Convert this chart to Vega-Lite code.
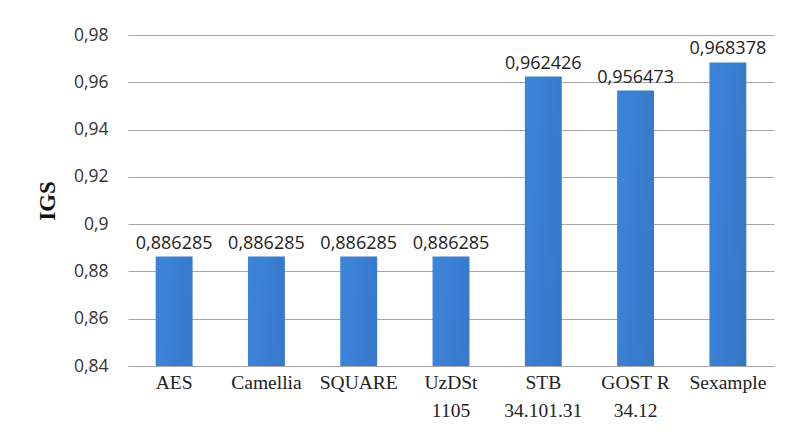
{
  "$schema": "https://vega.github.io/schema/vega-lite/v6.json",
  "width": 646,
  "height": 331,
  "autosize": {"type": "none"},
  "padding": {"left": 128, "top": 35, "right": 12, "bottom": 66},
  "background": "white",
  "config": {
    "locale": {"number": {"decimal": ",", "thousands": ".", "grouping": [3], "currency": ["", ""]}},
    "view": {"stroke": null}
  },
  "data": {
    "values": [
      {"cipher": "AES", "igs": 0.886285},
      {"cipher": "Camellia", "igs": 0.886285},
      {"cipher": "SQUARE", "igs": 0.886285},
      {"cipher": "UzDSt|1105", "igs": 0.886285},
      {"cipher": "STB|34.101.31", "igs": 0.962426},
      {"cipher": "GOST R|34.12", "igs": 0.956473},
      {"cipher": "Sexample", "igs": 0.968378}
    ]
  },
  "encoding": {
    "x": {
      "field": "cipher",
      "type": "nominal",
      "sort": null,
      "scale": {"paddingInner": 0.6, "paddingOuter": 0.3},
      "axis": {
        "title": null,
        "labelAngle": 0,
        "labelExpr": "split(datum.label, '|')",
        "labelFont": "Liberation Serif",
        "labelFontSize": 19.5,
        "labelColor": "#222222",
        "labelLineHeight": 28,
        "labelPadding": 7,
        "ticks": false,
        "domainColor": "#a6a6a6",
        "domainWidth": 1
      }
    },
    "y": {
      "field": "igs",
      "type": "quantitative",
      "scale": {"domain": [0.84, 0.98], "zero": false, "nice": false},
      "axis": {
        "title": "IGS",
        "titleFont": "Liberation Serif",
        "titleFontSize": 23,
        "titleFontWeight": "bold",
        "titleColor": "#111111",
        "titlePadding": 14,
        "values": [0.84, 0.86, 0.88, 0.9, 0.92, 0.94, 0.96, 0.98],
        "format": ".2~f",
        "labelFont": "Open Sans",
        "labelFontSize": 17.5,
        "labelColor": "#333333",
        "labelPadding": 20,
        "ticks": false,
        "domain": false,
        "gridColor": "#a6a6a6",
        "gridWidth": 1
      }
    }
  },
  "layer": [
    {
      "mark": {
        "type": "bar",
        "clip": true,
        "color": {
          "gradient": "linear",
          "x1": 0, "y1": 0, "x2": 0.3, "y2": 1,
          "stops": [
            {"offset": 0, "color": "#3d85da"},
            {"offset": 1, "color": "#2a5ea8"}
          ]
        }
      }
    },
    {
      "mark": {
        "type": "text",
        "baseline": "bottom",
        "dy": -4,
        "font": "Open Sans",
        "fontSize": 18,
        "color": "#222222"
      },
      "encoding": {
        "text": {"field": "igs", "type": "quantitative", "format": ".6f"}
      }
    }
  ]
}
